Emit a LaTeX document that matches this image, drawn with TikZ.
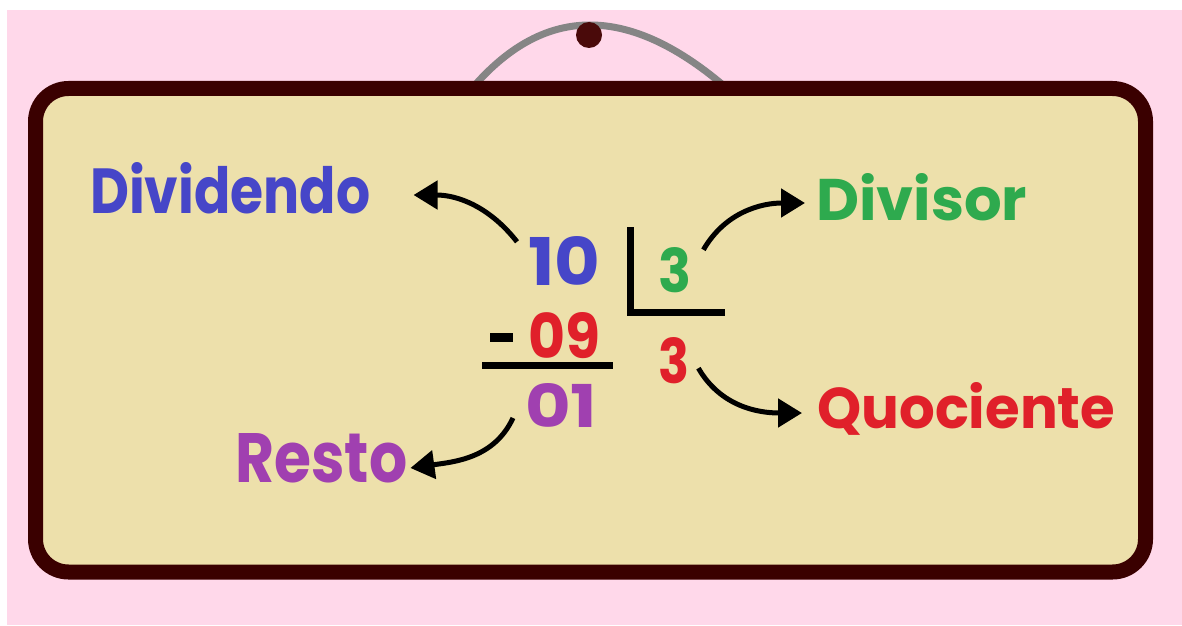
\documentclass[tikz,border=0pt]{standalone}
\usepackage{fontspec}
\setmainfont{Poppins}
\usetikzlibrary{arrows.meta,calc}
\definecolor{pinkbg}{HTML}{FFD8EA}
\definecolor{boardfill}{HTML}{EDE0AB}
\definecolor{boardline}{HTML}{3A0000}
\definecolor{hanger}{HTML}{858585}
\definecolor{dotc}{HTML}{4A0A0A}
\definecolor{cblue}{HTML}{4646C8}
\definecolor{cgreen}{HTML}{2EAA4E}
\definecolor{cred}{HTML}{E0202A}
\definecolor{cpurple}{HTML}{A040B0}
\tikzset{
  lbl/.style={inner sep=0pt, font=\bfseries},
  arr/.style={line width=5pt, black, -{Triangle[length=24pt,width=28pt]}},
  rule/.style={line width=7pt, black},
}
\newcommand{\fit}[3]{\resizebox{#1pt}{#2pt}{#3}}
\begin{document}
\begin{tikzpicture}[x=1pt,y=1pt]
\useasboundingbox (0,0) rectangle (1182,625);
\fill[white] (0,0) rectangle (1182,625);
\fill[pinkbg] (7,0) rectangle (1182,615);
% hanger
\draw[hanger, line width=7pt, line cap=round] (475,540) .. controls (546,620) and (628,620) .. (723,540);
% board
\draw[boardline, fill=boardfill, line width=15pt, rounded corners=33pt] (35.5,53) rectangle (1145.5,536.5);
\fill[dotc] (589,590) circle (13);
% labels
\node[lbl, anchor=base west, text=cblue] (dividendo) at (90,412) {\fit{280}{51}{Dividendo}};
\node[lbl, anchor=base west, text=cgreen] (divisor) at (816,405) {\fit{211}{47}{Divisor}};
\node[lbl, anchor=base west, text=cred] (quociente) at (817,197) {\fit{298}{46}{Quociente}};
\node[lbl, anchor=base west, text=cpurple] (resto) at (235,143) {\fit{172}{49}{Resto}};
% numbers
\node[lbl, anchor=base west, text=cblue] (ten) at (528,340) {\fit{72}{49}{10}};
\node[lbl, anchor=base west, text=cred] (nine) at (528,267) {\fit{72}{46}{09}};
\node[lbl, anchor=base west, text=cpurple] (one) at (525,198) {\fit{72}{44}{01}};
\node[lbl, anchor=base west, text=cgreen] (three) at (658,333) {\fit{33}{45}{3}};
\node[lbl, anchor=base west, text=cred] (quot) at (658,242) {\fit{31}{46}{3}};
% division marks
\draw[rule] (630,398) |- (725,312.5);
\fill[black] (490,283) rectangle (513,292);
\fill[black] (482,256) rectangle (613,263);
% arrows
\draw[arr] ($(ten.north west)+(-11,-6)$) to[out=128,in=0] ($(dividendo.base east)+(43,18)$);
\draw[arr] ($(three.north east)+(12,-3)$) to[out=60,in=180] ($(divisor.base west)+(-11,17)$);
\draw[arr] ($(quot.east)+(9,-8)$) to[out=-60,in=180] ($(quociente.base west)+(-15,15)$);
\draw[arr] ($(one.west)+(-12,-13)$) to[out=-115,in=8] ($(resto.base east)+(3,14)$);
\end{tikzpicture}
\end{document}
